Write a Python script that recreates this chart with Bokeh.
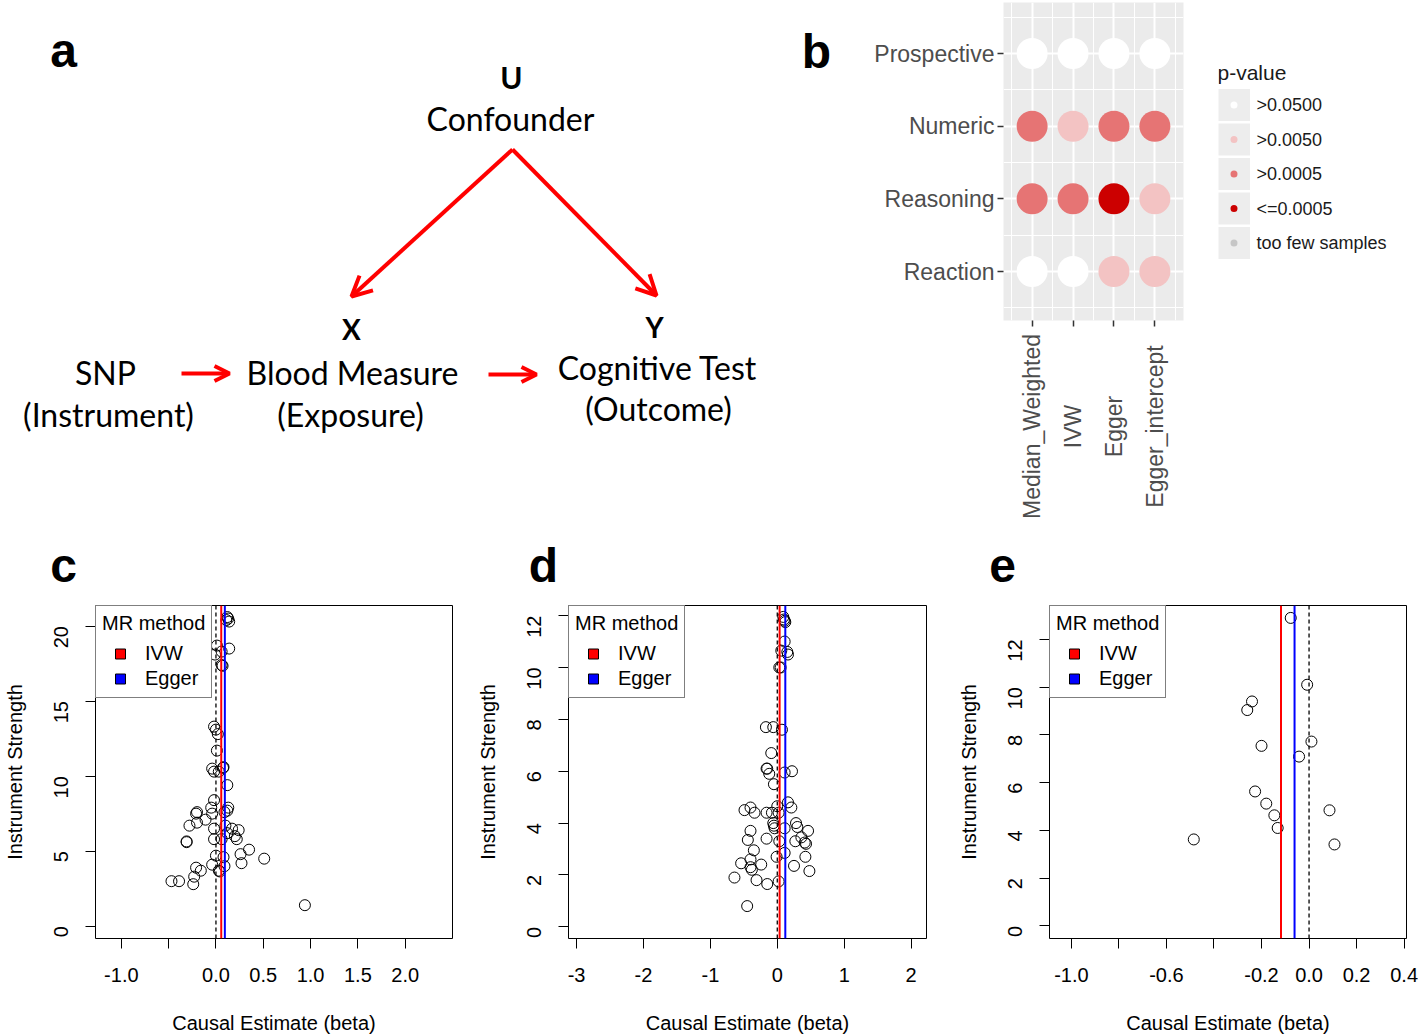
import math
from bokeh.plotting import figure
from bokeh.models import (Range1d, FixedTicker, Span, Arrow, OpenHead, Legend, LegendItem)
from bokeh.layouts import column, row
from bokeh.embed import file_html
from bokeh.resources import INLINE
from bokeh.core.properties import value

FONT = "Liberation Sans"
DFONT = "Lato"
NAN = float("nan")

# ---------------- panel b data ----------------
methods = ["Median_Weighted", "IVW", "Egger", "Egger_intercept"]
tests = ["Prospective", "Numeric", "Reasoning", "Reaction"]
pv_prospective = [">0.0500", ">0.0500", ">0.0500", ">0.0500"]
pv_numeric = [">0.0005", ">0.0050", ">0.0005", ">0.0005"]
pv_reasoning = [">0.0005", ">0.0005", "<=0.0005", ">0.0050"]
pv_reaction = [">0.0500", ">0.0500", ">0.0050", ">0.0050"]
pv_levels = [">0.0500", ">0.0050", ">0.0005", "<=0.0005", "too few samples"]
pv_colors = ["#FFFFFF", "#F3C3C3", "#E67474", "#CC0000", "#C6C6C6"]

# ---------------- panel c data ----------------
c_x = [0.12, 0.13, 0.11, 0.14, 0.01, 0.06, -0.01, 0.14, 0.06, 0.07, -0.02, 0.00, 0.02, 0.01,
       -0.04, -0.02, 0.03, 0.08, 0.075, 0.12, -0.02, -0.05, 0.13, 0.12, 0.09, -0.04, -0.20,
       -0.21, -0.28, -0.20, -0.11, -0.02, 0.10, 0.17, 0.24, -0.31, -0.31, -0.02, 0.12, 0.20,
       0.22, 0.06, 0.35, 0.26, 0.27, 0.51, 0.00, 0.08, -0.04, 0.09, 0.03, 0.04, -0.21, -0.16,
       -0.23, -0.24, -0.47, -0.39, 0.94]
c_y = [20.6, 20.5, 20.4, 20.3, 18.7, 18.3, 18.1, 18.5, 17.4, 17.35, 13.3, 13.1, 12.8, 11.7,
       10.5, 10.3, 10.3, 10.6, 10.55, 9.4, 8.4, 7.9, 7.9, 7.7, 7.6, 7.5, 7.6, 7.5, 6.7, 6.9,
       7.1, 6.5, 6.7, 6.5, 6.4, 5.6, 5.65, 5.8, 6.2, 6.0, 5.8, 5.8, 5.1, 4.8, 4.2, 4.5, 4.7,
       4.6, 4.1, 4.0, 3.7, 3.65, 3.9, 3.7, 3.3, 2.8, 3.0, 3.0, 1.4]
c_ivw = 0.056
c_egger = 0.094
c_xticks = [-1.0, 0.0, 0.5, 1.0, 1.5, 2.0]
c_xlabels = ["-1.0", "0.0", "0.5", "1.0", "1.5", "2.0"]
c_xticks_unlabelled = [-0.5]
c_yticks = [0, 5, 10, 15, 20]

# ---------------- panel d data ----------------
d_x = [0.09, 0.11, 0.12, 0.10, 0.11, 0.06, 0.15, 0.16, 0.03, 0.05,
       -0.17, -0.06, 0.07, -0.09, -0.16, -0.15, -0.12, 0.11, 0.22, -0.05,
       -0.49, -0.40, -0.34, -0.16, -0.08, 0.00, 0.02, 0.16, 0.21, -0.06,
       -0.05, -0.04, 0.11, 0.28, 0.30, 0.46, 0.36, 0.41, 0.43, 0.27,
       -0.40, -0.44, -0.16, 0.03, -0.35, 0.11, -0.01, 0.42, -0.40, -0.54,
       -0.24, -0.40, -0.38, 0.25, 0.48, -0.64, -0.31, -0.15, 0.02, -0.45]
d_y = [11.95, 11.8, 11.75, 11.85, 11.0, 10.65, 10.6, 10.5, 10.0, 10.0,
       7.7, 7.7, 7.6, 6.7, 6.1, 6.1, 5.9, 5.95, 6.0, 5.5,
       4.5, 4.6, 4.4, 4.4, 4.4, 4.65, 4.4, 4.8, 4.6, 4.0,
       3.9, 3.8, 3.8, 4.0, 3.85, 3.7, 3.45, 3.25, 3.2, 3.3,
       3.7, 3.35, 3.4, 3.3, 2.95, 2.85, 2.7, 2.7, 2.6, 2.45,
       2.4, 2.3, 2.2, 2.35, 2.15, 1.9, 1.8, 1.65, 1.75, 0.8]
d_ivw = 0.035
d_egger = 0.12
d_xticks = [-3, -2, -1, 0, 1, 2]
d_xlabels = ["-3", "-2", "-1", "0", "1", "2"]
d_xticks_unlabelled = []
d_yticks = [0, 2, 4, 6, 8, 10, 12]

# ---------------- panel e data ----------------
e_x = [-0.077, -0.008, -0.24, -0.26, -0.20, 0.01, -0.042, -0.227, -0.18, -0.146, -0.132,
       -0.485, 0.086, 0.107]
e_y = [12.9, 10.1, 9.4, 9.04, 7.54, 7.72, 7.09, 5.63, 5.12, 4.63, 4.10, 3.62, 4.84, 3.41]
e_ivw = -0.118
e_egger = -0.061
e_xticks = [-1.0, -0.6, -0.2, 0.0, 0.2, 0.4]
e_xlabels = ["-1.0", "-0.6", "-0.2", "0.0", "0.2", "0.4"]
e_xticks_unlabelled = [-0.8, -0.4]
e_yticks = [0, 2, 4, 6, 8, 10, 12]

# ---------------- panel a diagram (layout in pixel space, text centres) ----------------
diagram_bold = [("U", 511, 76, "30px"), ("X", 351, 328, "28px"), ("Y", 654, 326, "28px")]
diagram_text = [("Confounder", 510, 118), ("SNP", 105, 372), ("(Instrument)", 108, 414),
                ("Blood Measure", 352, 372), ("(Exposure)", 350, 414),
                ("Cognitive Test", 657, 367), ("(Outcome)", 658, 408)]
diagram_arrows = [(512, 149, 351, 296, 20), (512, 149, 656, 295, 20),
                  (181, 373, 229, 373, 15), (488, 374, 536, 374, 15)]
panel_letters_top = [("a", 63, 50), ("b", 816, 51)]
panel_letters_bottom = [("c", 63, 565), ("d", 543, 565), ("e", 1002, 565)]

TOP_H = 520
COMMON = dict(output_backend="svg", toolbar_location=None, frame_align=False)


def bare(p):
    p.xgrid.visible = False
    p.ygrid.visible = False
    p.outline_line_color = None
    p.background_fill_color = None
    p.border_fill_color = None


# ---------- figure a (diagram) ----------
pa = figure(width=840, height=TOP_H, x_range=Range1d(0, 840), y_range=Range1d(TOP_H, 0),
            x_axis_location=None, y_axis_location=None, min_border=0, **COMMON)
bare(pa)
for (x0, y0, x1, y1, hs) in diagram_arrows:
    pa.add_layout(Arrow(x_start=x0, y_start=y0, x_end=x1, y_end=y1, line_color="red",
                        line_width=4,
                        end=OpenHead(size=hs, line_color="red", line_width=4)))
pa.text(x=[t[1] for t in diagram_text], y=[t[2] for t in diagram_text],
        text=[t[0] for t in diagram_text], text_font=value(DFONT), text_font_size="32px",
        text_align="center", text_baseline="middle", text_color="black")
for (t, x, y, s) in diagram_bold:
    pa.text(x=[x], y=[y], text=[t], text_font=value(DFONT), text_font_size=s,
            text_font_style="bold", text_align="center", text_baseline="middle",
            text_color="black")
pa.text(x=[t[1] for t in panel_letters_top], y=[t[2] for t in panel_letters_top],
        text=[t[0] for t in panel_letters_top], text_font=value(FONT), text_font_size="48px",
        text_font_style="bold", text_align="center", text_baseline="middle",
        text_color="black")

# ---------- figure b (dot matrix) ----------
pv_rows = [pv_prospective, pv_numeric, pv_reasoning, pv_reaction]
cmap = dict(zip(pv_levels, pv_colors))
bx, by, bc = [], [], []
for i, rowv in enumerate(pv_rows):
    for j, lev in enumerate(rowv):
        bx.append(j + 1)
        by.append(len(tests) - i)
        bc.append(cmap[lev])
xpos = list(range(1, len(methods) + 1))
ypos = list(range(1, len(tests) + 1))
halves = [k + 0.5 for k in range(0, len(methods) + 1)]

bxr = Range1d(0.3, 4.7)
pb = figure(width=365, height=332, x_range=bxr, y_range=Range1d(0.326, 4.702),
            min_border_left=163, min_border_right=22, min_border_top=2,
            min_border_bottom=12, **COMMON)
pb.background_fill_color = "#EBEBEB"
pb.border_fill_color = None
pb.outline_line_color = None
pb.xaxis.ticker = FixedTicker(ticks=[], minor_ticks=xpos)
pb.yaxis.ticker = FixedTicker(ticks=ypos)
pb.xgrid.ticker = FixedTicker(ticks=xpos, minor_ticks=halves)
pb.ygrid.ticker = FixedTicker(ticks=ypos, minor_ticks=halves)
for g in (pb.xgrid[0], pb.ygrid[0]):
    g.grid_line_color = "white"
    g.grid_line_width = 2
    g.minor_grid_line_color = "white"
    g.minor_grid_line_width = 1
pb.yaxis.major_label_overrides = {len(tests) - i: t for i, t in enumerate(tests)}
for ax in (pb.xaxis[0], pb.yaxis[0]):
    ax.axis_line_color = None
    ax.major_tick_out = 6
    ax.major_tick_in = 0
    ax.minor_tick_out = 6
    ax.minor_tick_in = 0
    ax.major_tick_line_color = "#333333"
    ax.minor_tick_line_color = "#333333"
    ax.major_tick_line_width = 1.5
    ax.minor_tick_line_width = 1.5
    ax.major_label_text_font = FONT
    ax.major_label_text_font_size = "23px"
    ax.major_label_text_color = "#4D4D4D"
    ax.major_label_standoff = 3
pb.scatter(bx, by, size=31, fill_color=bc, line_color=None)

# rotated method labels below panel b (same x scale)
pblab = figure(width=365, height=TOP_H - 332, x_range=bxr, y_range=Range1d(TOP_H, 332),
               x_axis_location=None, y_axis_location=None, min_border_left=163,
               min_border_right=22, min_border_top=0, min_border_bottom=0, **COMMON)
bare(pblab)
pblab.text(x=xpos, y=[426] * len(xpos), text=methods, angle=math.pi / 2,
           text_font=value(FONT), text_font_size="23px", text_align="center",
           text_baseline="middle", text_color="#4D4D4D")

# ---------- legend figure for b ----------
leg_unit = 34.5
leg_first = 104.5
pleg = figure(width=213, height=TOP_H, x_range=Range1d(0, 200),
              y_range=Range1d((TOP_H - leg_first) / leg_unit, -leg_first / leg_unit),
              x_axis_location=None, y_axis_location=None, min_border_left=13,
              min_border_right=0, min_border_top=0, min_border_bottom=0, **COMMON)
bare(pleg)
ly = list(range(len(pv_levels)))
pleg.scatter([15.5] * len(ly), ly, marker="square", size=32, fill_color="#EDEDED",
             line_color=None)
pleg.scatter([15.5] * len(ly), ly, size=7, fill_color=pv_colors, line_color=None)
pleg.text(x=[38] * len(ly), y=ly, text=pv_levels, text_font=value(FONT),
          text_font_size="18px", text_align="left", text_baseline="middle",
          text_color="#1A1A1A")
pleg.text(x=[-1], y=[-(leg_first - 72) / leg_unit], text=["p-value"], text_font=value(FONT),
          text_font_size="21px", text_align="left", text_baseline="middle",
          text_color="#1A1A1A")

# ---------- letters row ----------
LET_B = 603
plet = figure(width=1418, height=LET_B - TOP_H, x_range=Range1d(0, 1418),
              y_range=Range1d(LET_B, TOP_H), x_axis_location=None, y_axis_location=None,
              min_border=0, **COMMON)
bare(plet)
plet.text(x=[t[1] for t in panel_letters_bottom], y=[t[2] for t in panel_letters_bottom],
          text=[t[0] for t in panel_letters_bottom], text_font=value(FONT),
          text_font_size="48px", text_font_style="bold", text_align="center",
          text_baseline="middle", text_color="black")


# ---------- scatter panels ----------
def scatter_panel(xs, ys, ivw, egger, xr, yr, xticks, xlabels, xminor, yticks,
                  width, left, right):
    p = figure(width=width, height=433, x_range=Range1d(*xr), y_range=Range1d(*yr),
               min_border_left=left, min_border_right=right, min_border_top=2,
               min_border_bottom=96, **COMMON)
    p.outline_line_color = "black"
    p.outline_line_width = 1
    p.xgrid.visible = False
    p.ygrid.visible = False
    p.scatter(xs, ys, size=11, marker="circle", fill_color=None, line_color="black",
              line_width=1)
    p.add_layout(Span(location=0, dimension="height", line_color="black",
                      line_dash="4 3", line_width=1.3))
    p.add_layout(Span(location=ivw, dimension="height", line_color="red", line_width=2))
    p.add_layout(Span(location=egger, dimension="height", line_color="blue", line_width=2))
    r1 = p.scatter([ivw], [NAN], marker="square", fill_color="red", line_color="black",
                   line_width=1)
    r2 = p.scatter([egger], [NAN], marker="square", fill_color="blue", line_color="black",
                   line_width=1)
    leg = Legend(items=[LegendItem(label="IVW", renderers=[r1]),
                        LegendItem(label="Egger", renderers=[r2])],
                 title="MR method", location="top_left", margin=0, padding=6,
                 spacing=0, glyph_width=36, glyph_height=25, label_standoff=7,
                 border_line_color="black", border_line_width=1,
                 background_fill_color="white", background_fill_alpha=1.0,
                 label_text_font=FONT, label_text_font_size="20px",
                 label_text_color="black", title_text_font=FONT,
                 title_text_font_size="20px", title_text_font_style="normal",
                 title_text_color="black", title_standoff=6)
    p.add_layout(leg)
    p.xaxis.ticker = FixedTicker(ticks=xticks, minor_ticks=xminor)
    p.xaxis.major_label_overrides = dict(zip(xticks, xlabels))
    p.yaxis.ticker = FixedTicker(ticks=yticks)
    p.yaxis.major_label_overrides = {t: str(t) for t in yticks}
    for ax in (p.xaxis[0], p.yaxis[0]):
        ax.axis_line_color = None
        ax.major_tick_out = 10
        ax.major_tick_in = 0
        ax.minor_tick_out = 10
        ax.minor_tick_in = 0
        ax.major_tick_line_color = "black"
        ax.minor_tick_line_color = "black"
        ax.major_label_text_font = FONT
        ax.major_label_text_font_size = "20px"
        ax.major_label_text_color = "black"
        ax.axis_label_text_font = FONT
        ax.axis_label_text_font_size = "20px"
        ax.axis_label_text_font_style = "normal"
        ax.axis_label_text_color = "black"
    p.xaxis.major_label_standoff = 19
    p.xaxis.axis_label_standoff = 27
    p.yaxis.major_label_standoff = 24
    p.yaxis.axis_label_standoff = 19
    p.yaxis.major_label_orientation = math.pi / 2
    p.xaxis.axis_label = "Causal Estimate (beta)"
    p.yaxis.axis_label = "Instrument Strength"
    return p


pc = scatter_panel(c_x, c_y, c_ivw, c_egger, (-1.273, 2.5), (-0.82, 21.37), c_xticks,
                   c_xlabels, c_xticks_unlabelled, c_yticks, 473, 93, 21)
pd_ = scatter_panel(d_x, d_y, d_ivw, d_egger, (-3.12, 2.23), (-0.45, 12.39), d_xticks,
                    d_xlabels, d_xticks_unlabelled, d_yticks, 481, 93, 28)
pe = scatter_panel(e_x, e_y, e_ivw, e_egger, (-1.092, 0.41), (-0.53, 13.42), e_xticks,
                   e_xlabels, e_xticks_unlabelled, e_yticks, 464, 93, 12)

layout = column(row(pa, column(pb, pblab), pleg), plet, row(pc, pd_, pe))
open("out.html", "w").write(file_html(layout, INLINE))
